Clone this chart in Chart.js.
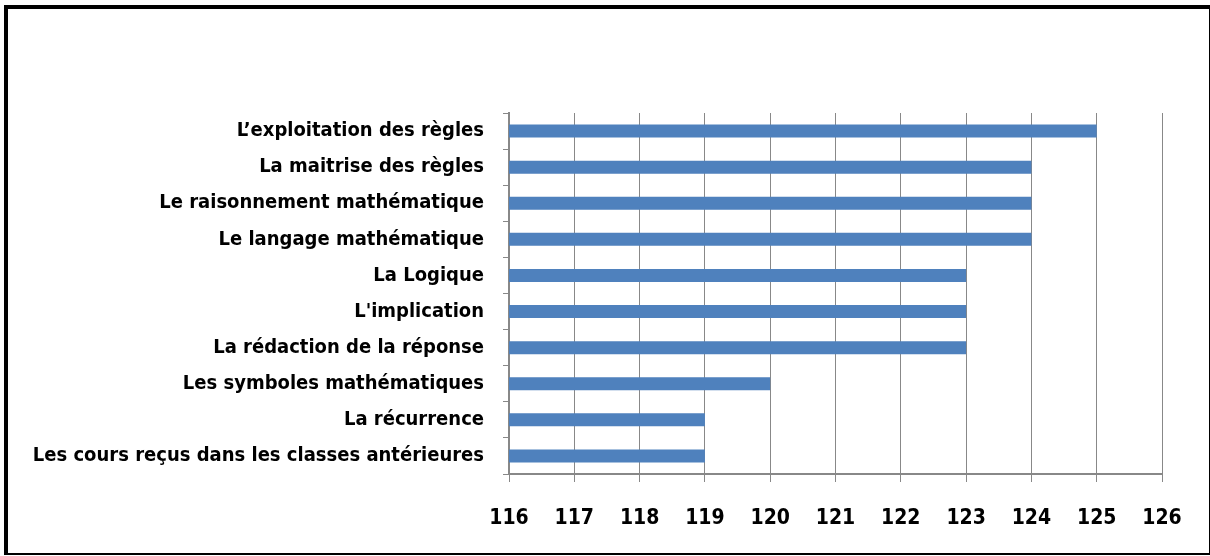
<!DOCTYPE html>
<html lang="fr">
<head>
    <meta charset="UTF-8">
    <title>Difficultés</title>
    <script src="https://cdn.jsdelivr.net/npm/chart.js"></script>
    <style>
        body {
            margin: 0;
            background: #fff;
        }
        #wrap {
            position: relative;
            width: 1210px;
            height: 556px;
        }
        #frame {
            position: absolute;
            left: 4px;
            top: 5px;
            width: 1201px;
            height: 544px;
            border-top: 4px solid #000;
            border-left: 4px solid #000;
            border-right: 1px solid #000;
            border-bottom: 2px solid #000;
            pointer-events: none;
        }
    </style>
</head>
<body>
    <div id="wrap">
        <canvas id="chart" width="1210" height="556"></canvas>
        <div id="frame"></div>
    </div>

    <script>
        // categories, top to bottom
        const labels = [
            'L\u2019exploitation des règles',
            'La maitrise des règles',
            'Le raisonnement mathématique',
            'Le langage mathématique',
            'La Logique',
            "L'implication",
            'La rédaction de la réponse',
            'Les symboles mathématiques',
            'La récurrence',
            'Les cours reçus dans les classes antérieures'
        ];
        const values = [125, 124, 124, 124, 123, 123, 123, 120, 119, 119];

        const xMin = 116;
        const xMax = 126;

        const fontFamily = "'Liberation Sans Narrow', 'DejaVu Sans Condensed', sans-serif";

        const ctx = document.getElementById('chart').getContext('2d');
        new Chart(ctx, {
            type: 'bar',
            data: {
                labels: labels,
                datasets: [{
                    data: values,
                    backgroundColor: '#4F81BD',
                    borderWidth: 0,
                    barPercentage: 0.36,
                    categoryPercentage: 1.0
                }]
            },
            options: {
                indexAxis: 'y',
                responsive: false,
                animation: false,
                layout: {
                    padding: { top: 113, right: 48, bottom: 0, left: 0 }
                },
                plugins: {
                    legend: { display: false },
                    tooltip: { enabled: false }
                },
                scales: {
                    x: {
                        min: xMin,
                        max: xMax,
                        ticks: {
                            stepSize: 1,
                            color: '#000',
                            padding: 24,
                            font: { family: fontFamily, size: 21, weight: 'bold' }
                        },
                        grid: {
                            color: '#888',
                            lineWidth: 1,
                            tickLength: 8
                        },
                        border: { color: '#888', width: 2 },
                        afterFit: function (scale) { scale.height = 82; }
                    },
                    y: {
                        ticks: {
                            color: '#000',
                            padding: 19,
                            font: { family: fontFamily, size: 20, weight: 'bold' }
                        },
                        grid: {
                            offset: true,
                            drawOnChartArea: false,
                            color: '#888',
                            tickLength: 6
                        },
                        border: { color: '#888', width: 2 },
                        afterFit: function (scale) { scale.width = 509; }
                    }
                }
            }
        });
    </script>
</body>
</html>
